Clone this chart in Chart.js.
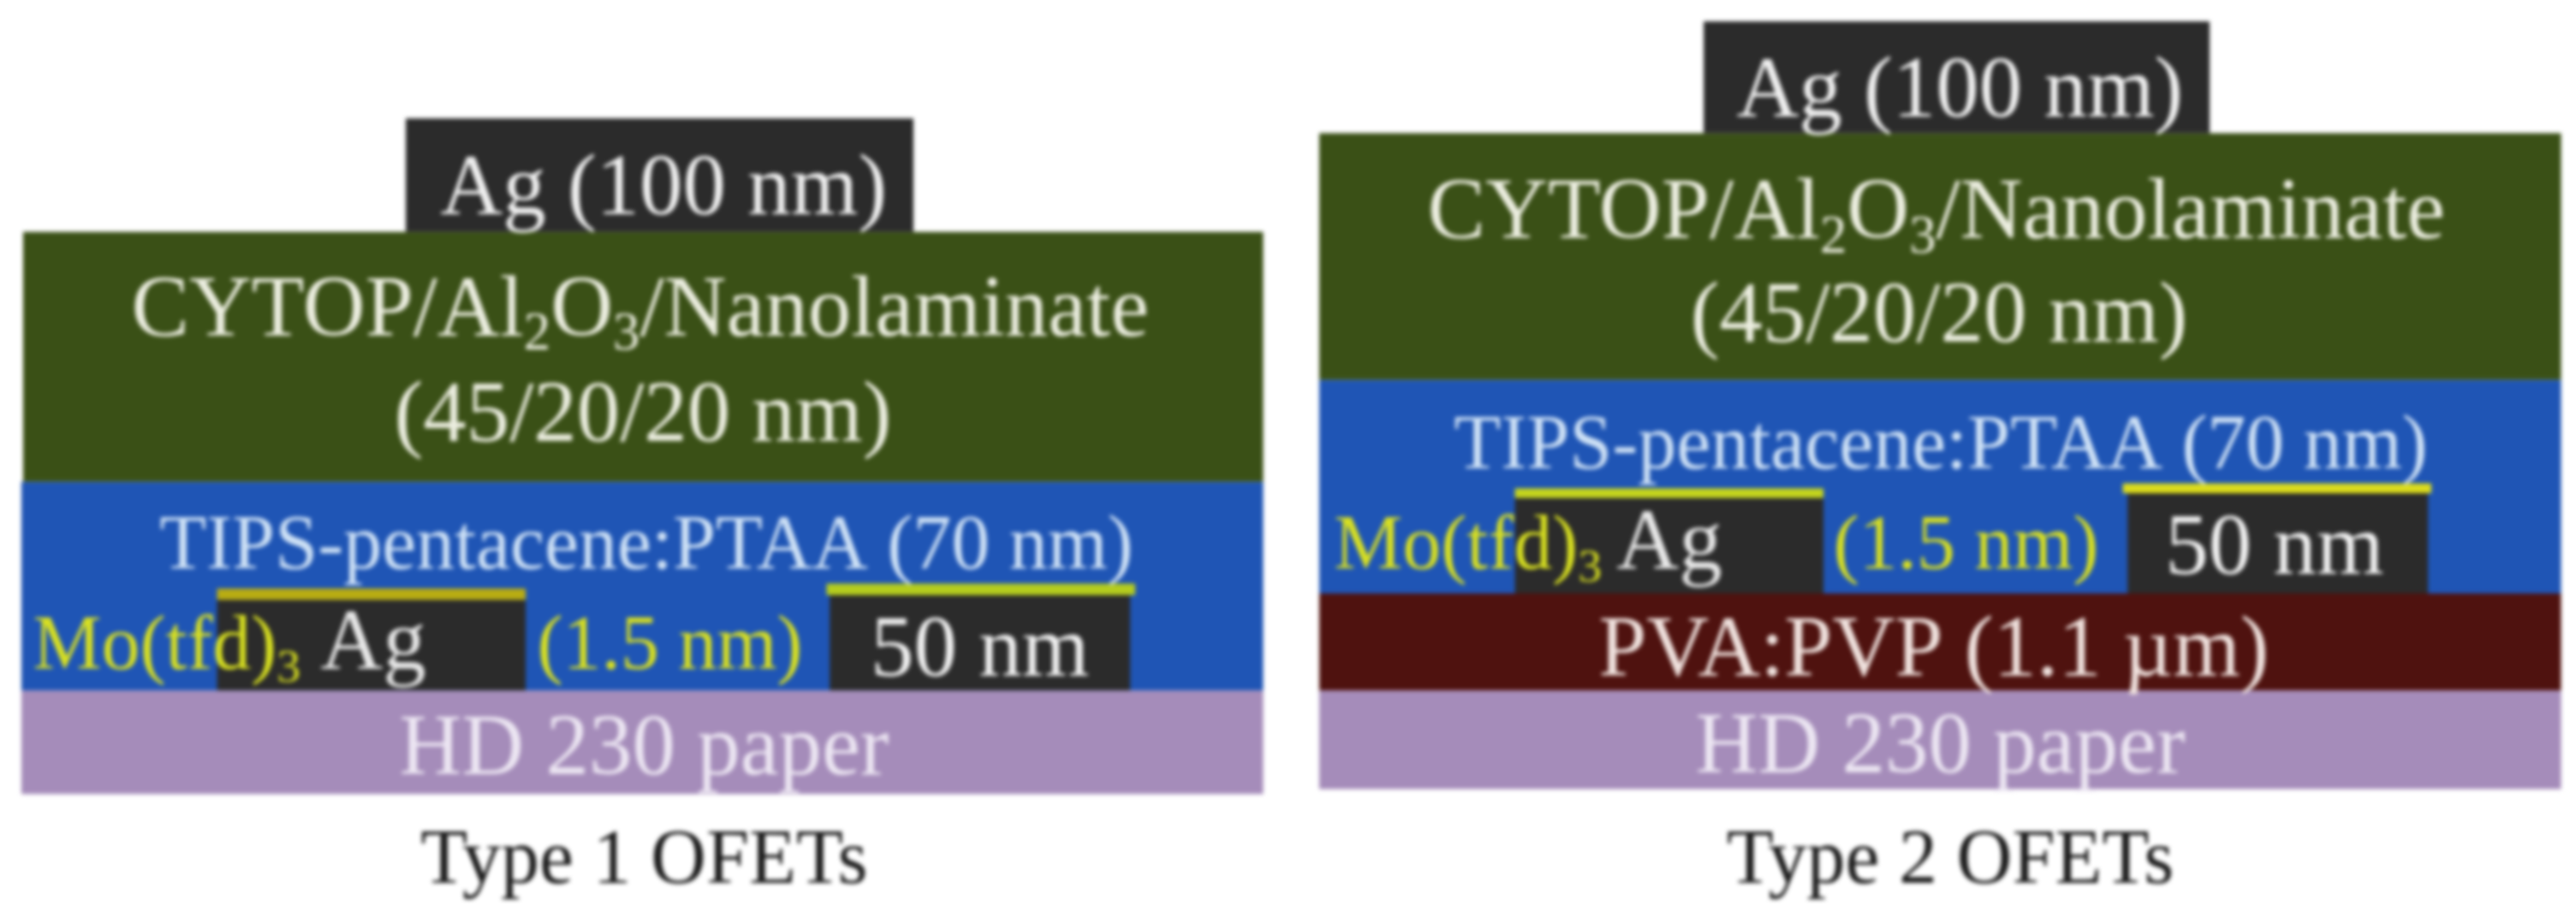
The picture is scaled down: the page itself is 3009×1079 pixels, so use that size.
<!DOCTYPE html>
<html>
<head>
<meta charset="utf-8">
<title>Type 1 and Type 2 OFETs</title>
<script src="https://cdn.jsdelivr.net/npm/chart.js@4/dist/chart.umd.min.js"></script>
<style>
    html, body { margin: 0; padding: 0; background: #ffffff; }
    canvas { display: block; filter: blur(2.4px); }
</style>
</head>
<body>
<canvas id="stackChart" width="3009" height="1079"></canvas>
<script>
// layers, in reading units of the picture (top down). First ones are drawn on top
const layerNames = [
    'Ag 1', 'Mo 1a', 'Ag 1b', 'Mo 1b', 'Gate 1', 'CYTOP 1', 'TIPS 1', 'Paper 1',
    'Ag 2', 'Mo 2a', 'Ag 2b', 'Mo 2b', 'Gate 2', 'CYTOP 2', 'TIPS 2', 'PVA 2', 'Paper 2'
];
const layerLeft = [132, 132, 505, 503, 247, 14, 13, 13, 922, 922, 1295, 1292, 1037, 803, 803, 803, 803];
const layerRight = [320, 320, 688, 691, 556, 769, 769, 769, 1110, 1110, 1478, 1480, 1345, 1559, 1559, 1559, 1559];
const layerTop = [365, 358, 362, 355, 72, 141, 293, 420, 303, 297, 300, 294, 13, 81, 231, 361, 420];
const layerBottom = [420, 365, 420, 362, 141, 293, 420, 483, 361, 303, 361, 300, 81, 231, 361, 420, 480];
const layerColors = [
    '#2b2b2b', '#b9ac12', '#2b2b2b', '#b4cc1e', '#2b2b2b', '#3a5016', '#1f55b5', '#a58cba',
    '#2b2b2b', '#c4d41c', '#2b2b2b', '#dcdc1c', '#2b2b2b', '#3a5016', '#1f55b5', '#4f120f', '#a58cba'
];

// texts, _x_ marks a subscript
const labelTexts = [
    'Ag (100 nm)', 'CYTOP/Al_2_O_3_/Nanolaminate', '(45/20/20 nm)', 'TIPS-pentacene:PTAA (70 nm)',
    'Mo(tfd)_3_', 'Ag', '(1.5 nm)', '50 nm', 'HD 230 paper', 'Type 1 OFETs',
    'Ag (100 nm)', 'CYTOP/Al_2_O_3_/Nanolaminate', '(45/20/20 nm)', 'TIPS-pentacene:PTAA (70 nm)',
    'Mo(tfd)_3_', 'Ag', '(1.5 nm)', '50 nm', 'PVA:PVP (1.1 µm)', 'HD 230 paper', 'Type 2 OFETs'
];
const labelX = [268, 80, 240, 97, 20, 195, 327, 530, 243, 256, 1057, 869, 1029, 885, 812, 984, 1116, 1318, 973, 1032, 1051];
const labelY = [130, 204, 268, 346, 407, 407, 407, 411, 471, 537, 71, 145, 208, 285, 346, 346, 346, 349, 411, 470, 537];
const labelSizes = [101, 101, 101, 90, 90, 101, 90, 101, 101, 90, 101, 101, 101, 90, 90, 101, 90, 101, 101, 101, 90];
const labelColors = [
    '#f0f0f0', '#eceee0', '#eceee0', '#cfe2f6',
    '#d8e020', '#e8e8e8', '#d8e020', '#f2f2f2', '#ece6f2', '#1a1a1a',
    '#f0f0f0', '#eceee0', '#eceee0', '#cfe2f6',
    '#d8e020', '#e8e8e8', '#d8e020', '#f2f2f2', '#f0e2de', '#ece6f2', '#1a1a1a'
];

const ctx = document.getElementById('stackChart').getContext('2d');

// one flat line per layer, filled down to the layer's lower edge
const layerDatasets = layerNames.map((name, i) => ({
    label: name,
    data: [{ x: layerLeft[i], y: layerTop[i] }, { x: layerRight[i], y: layerTop[i] }],
    fill: { value: layerBottom[i] },
    backgroundColor: layerColors[i],
    borderWidth: 0,
    pointRadius: 0
}));

// text goes through the scales too, so it stays with the layers
const labelPlugin = {
    id: 'layerLabels',
    afterDatasetsDraw(chart) {
        const c = chart.ctx;
        const xs = chart.scales.x;
        const ys = chart.scales.y;
        c.save();
        c.textBaseline = 'alphabetic';
        c.textAlign = 'left';
        labelTexts.forEach((text, i) => {
            let px = xs.getPixelForValue(labelX[i]);
            const py = ys.getPixelForValue(labelY[i]);
            const size = labelSizes[i];
            c.fillStyle = labelColors[i];
            text.split('_').forEach((run, j) => {
                if (!run) return;
                const isSub = j % 2 === 1;
                c.font = (isSub ? size * 0.62 : size) + 'px "Liberation Serif"';
                c.fillText(run, px, isSub ? py + size * 0.16 : py);
                px += c.measureText(run).width;
            });
        });
        c.restore();
    }
};

new Chart(ctx, {
    type: 'line',
    data: { datasets: layerDatasets },
    plugins: [labelPlugin],
    options: {
        responsive: false,
        animation: false,
        devicePixelRatio: 1,
        layout: { padding: 0 },
        plugins: {
            legend: { display: false },
            title: { display: false },
            tooltip: { enabled: false }
        },
        scales: {
            x: { type: 'linear', min: 0, max: 1568, display: false },
            y: { type: 'linear', min: 0, max: 562, reverse: true, display: false }
        }
    }
});
</script>
</body>
</html>
